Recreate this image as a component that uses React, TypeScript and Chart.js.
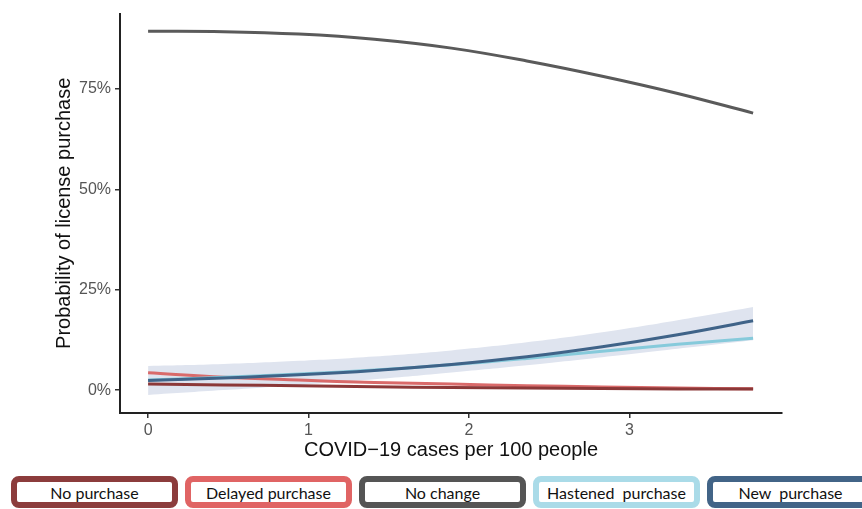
import React, { useEffect, useRef } from "react";
import { Chart, registerables } from "chart.js";

Chart.register(...registerables);

// COVID-19 cases per 100 people (x positions of curve samples)
const casesX = [0, 0.47, 0.94, 1.41, 1.89, 2.36, 2.83, 3.3, 3.77];

// Probabilities in %
const noPurchase = [1.5, 1.3, 1.1, 0.85, 0.65, 0.5, 0.4, 0.3, 0.25];
const delayedPurchase = [4.3, 3.2, 2.5, 1.9, 1.5, 1.1, 0.8, 0.5, 0.35];
const noChange = [89.4, 89.3, 88.7, 87.4, 85.2, 82.0, 78.2, 73.9, 69.0];
const hastenedPurchase = [2.5, 3.2, 4.0, 5.0, 6.3, 7.9, 9.7, 11.4, 12.9];
const newPurchase = [2.4, 3.0, 3.8, 4.9, 6.4, 8.3, 10.8, 13.8, 17.3];
const bandUpper = [6.0, 6.5, 7.3, 8.4, 9.9, 11.9, 14.4, 17.4, 20.7];
const bandLower = [-1.2, 0.0, 1.3, 2.7, 4.4, 6.2, 8.2, 10.3, 12.4];

const xTicks = [0, 1, 2, 3];
const yTicks = [0, 25, 50, 75];

const legendLabels = ["No purchase", "Delayed purchase", "No change", "Hastened  purchase", "New  purchase"];
const legendColors = ["#8c3c3c", "#e06464", "#555555", "#aadbe8", "#426487"];
const lineColors = ["#8b3838", "#d96a6a", "#5a5a5a", "#86cadb", "#3f6388"];

const pts = (ys: number[]) => casesX.map((x, i) => ({ x, y: ys[i] }));

export default function App() {
  const ref = useRef<HTMLCanvasElement | null>(null);

  useEffect(() => {
    if (!ref.current) return;
    Chart.defaults.font.family = "'Liberation Sans', Arial, sans-serif";
    const lineDs = (label: string, data: number[], color: string) => ({
      label,
      data: pts(data),
      borderColor: color,
      backgroundColor: color,
      borderWidth: 3,
      pointRadius: 0,
      tension: 0.4,
      fill: false,
    });
    const chart = new Chart(ref.current, {
      type: "line",
      data: {
        datasets: [
          lineDs("New purchase", newPurchase, lineColors[4]),
          lineDs("Hastened purchase", hastenedPurchase, lineColors[3]),
          lineDs("No purchase", noPurchase, lineColors[0]),
          lineDs("Delayed purchase", delayedPurchase, lineColors[1]),
          lineDs("No change", noChange, lineColors[2]),
          {
            label: "upper",
            data: pts(bandUpper),
            borderColor: "rgba(0,0,0,0)",
            backgroundColor: "#dfe4ef",
            borderWidth: 0,
            pointRadius: 0,
            tension: 0.4,
            fill: "+1",
          },
          {
            label: "lower",
            data: pts(bandLower),
            borderColor: "rgba(0,0,0,0)",
            borderWidth: 0,
            pointRadius: 0,
            tension: 0.4,
            fill: false,
          },
        ],
      },
      options: {
        responsive: false,
        animation: false,
        devicePixelRatio: 1,
        layout: { padding: { left: 0, right: 80, top: 12, bottom: 0 } },
        plugins: { legend: { display: false }, tooltip: { enabled: false } },
        scales: {
          x: {
            type: "linear",
            min: -0.175,
            max: 3.95,
            afterBuildTicks: (s: any) => {
              s.ticks = xTicks.map((v) => ({ value: v }));
            },
            afterFit: (s: any) => {
              s.height = 57;
            },
            ticks: {
              font: { size: 16 },
              color: "#555",
              padding: 3,
              callback: (v: any) => String(v),
            },
            grid: { display: true, drawOnChartArea: false, drawTicks: true, tickLength: 5, color: "#333", lineWidth: 1.5 },
            border: { display: true, color: "#222", width: 2 },
            title: {
              display: true,
              text: "COVID\u221219 cases per 100 people",
              font: { size: 20 },
              color: "#111",
              padding: { top: 0, bottom: 8 },
            },
          },
          y: {
            type: "linear",
            min: -5.7,
            max: 93.8,
            afterBuildTicks: (s: any) => {
              s.ticks = yTicks.map((v) => ({ value: v }));
            },
            afterFit: (s: any) => {
              s.width = 120;
            },
            ticks: {
              font: { size: 16 },
              color: "#555",
              padding: 4,
              callback: (v: any) => v + "%",
            },
            grid: { display: true, drawOnChartArea: false, drawTicks: true, tickLength: 5, color: "#333", lineWidth: 1.5 },
            border: { display: true, color: "#222", width: 2 },
            title: {
              display: true,
              text: "Probability of license purchase",
              font: { size: 20 },
              color: "#111",
              padding: { top: 52, bottom: 0 },
            },
          },
        },
      },
    });
    return () => chart.destroy();
  }, []);

  return (
    <div style={{ position: "absolute", left: 0, top: 0, width: 862, height: 509, overflow: "hidden", background: "#fff" }}>
      <canvas ref={ref} width={862} height={470} style={{ position: "absolute", left: 0, top: 0 }} />
      {legendLabels.map((label, i) => (
        <div
          key={label}
          style={{
            position: "absolute",
            left: 11 + i * 174,
            top: 476,
            width: 167,
            height: 32,
            boxSizing: "border-box",
            border: `6px solid ${legendColors[i]}`,
            borderRadius: 8,
            background: "#fff",
            display: "flex",
            alignItems: "center",
            justifyContent: "center",
            fontFamily: "Lato, 'Open Sans', sans-serif",
            fontSize: 16,
            color: "#111",
            whiteSpace: "pre",
          }}
        >
          {label}
        </div>
      ))}
    </div>
  );
}
